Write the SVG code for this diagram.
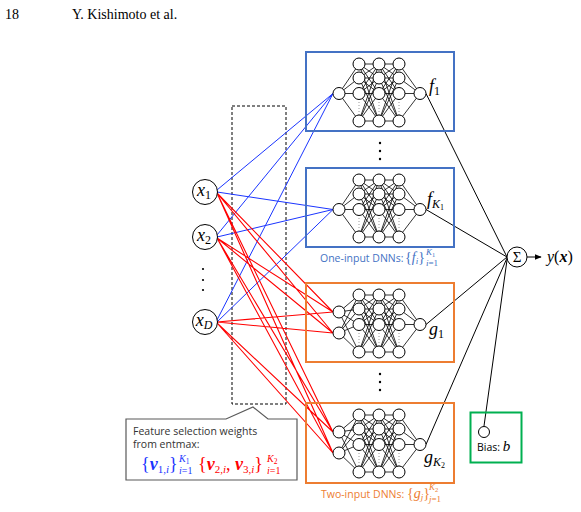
<svg xmlns="http://www.w3.org/2000/svg" xmlns:xlink="http://www.w3.org/1999/xlink" width="581" height="512" viewBox="0 0 581 512">
<style>
.serif{font-family:"Liberation Serif","DejaVu Serif",serif}
.sans{font-family:"Open Sans","Noto Sans","DejaVu Sans",sans-serif}
.it{font-style:italic}
.bi{font-style:italic;font-weight:bold}
.nl{stroke:#000;stroke-width:0.8;fill:none}
.nd{fill:#fff;stroke:#000;stroke-width:1}
.dots{stroke:#999;stroke-width:1;stroke-dasharray:1 2;fill:none}
.blue{stroke:#1a35ff;stroke-width:1;fill:none}
.red{stroke:#ff0000;stroke-width:1.1;fill:none}
.blk{stroke:#000;stroke-width:1;fill:none}
.fbox{fill:none;stroke:#4472c4;stroke-width:2}
.gbox{fill:none;stroke:#ed7d31;stroke-width:2}
</style>
<defs>
<marker id="arr" viewBox="0 0 10 10" refX="9" refY="5" markerWidth="7" markerHeight="7" orient="auto" markerUnits="userSpaceOnUse">
<path d="M0,1 L10,5 L0,9 Z" fill="#000"/>
</marker>
<g id="hidden">
<path class="nl" d="M53 12L73 12M53 12L73 26M53 12L73 41.5M53 12L73 69M53 26L73 12M53 26L73 26M53 26L73 41.5M53 26L73 69M53 41.5L73 12M53 41.5L73 26M53 41.5L73 41.5M53 41.5L73 69M53 69L73 12M53 69L73 26M53 69L73 41.5M53 69L73 69"/>
<path class="nl" d="M73 12L93 12M73 12L93 26M73 12L93 41.5M73 12L93 69M73 26L93 12M73 26L93 26M73 26L93 41.5M73 26L93 69M73 41.5L93 12M73 41.5L93 26M73 41.5L93 41.5M73 41.5L93 69M73 69L93 12M73 69L93 26M73 69L93 41.5M73 69L93 69"/>
<path class="nl" d="M93 12L114 41.5M93 26L114 41.5M93 41.5L114 41.5M93 69L114 41.5"/>
<path class="dots" d="M53 50V63M73 50V63M93 50V63"/>
<circle class="nd" cx="53" cy="12" r="6"/><circle class="nd" cx="53" cy="26" r="6"/><circle class="nd" cx="53" cy="41.5" r="6"/><circle class="nd" cx="53" cy="69" r="6"/>
<circle class="nd" cx="73" cy="12" r="6"/><circle class="nd" cx="73" cy="26" r="6"/><circle class="nd" cx="73" cy="41.5" r="6"/><circle class="nd" cx="73" cy="69" r="6"/>
<circle class="nd" cx="93" cy="12" r="6"/><circle class="nd" cx="93" cy="26" r="6"/><circle class="nd" cx="93" cy="41.5" r="6"/><circle class="nd" cx="93" cy="69" r="6"/>
<circle class="nd" cx="114" cy="41.5" r="6"/>
</g>
<g id="netF">
<path class="nl" d="M33 41.5L53 12M33 41.5L53 26M33 41.5L53 41.5M33 41.5L53 69"/>
<use xlink:href="#hidden"/>
<circle class="nd" cx="33" cy="41.5" r="6"/>
</g>
<g id="netG">
<path class="nl" d="M33 29L53 12M33 29L53 26M33 29L53 41.5M33 29L53 69M33 50L53 12M33 50L53 26M33 50L53 41.5M33 50L53 69"/>
<use xlink:href="#hidden"/>
<circle class="nd" cx="33" cy="29" r="6"/>
<circle class="nd" cx="33" cy="50" r="6"/>
</g>
</defs>
<rect width="581" height="512" fill="#fff"/>

<g id="header" class="serif" font-size="14">
<text x="5" y="19">18</text>
<text x="72" y="19">Y. Kishimoto et al.</text>
</g>

<g id="connectors">
<rect x="232" y="106" width="54" height="298" fill="none" stroke="#000" stroke-width="1" stroke-dasharray="3 2"/>
<path class="blue" d="M217 190L333 93.5M217 235L333 93.5M217 320L333 93.5M217 237L333 209.5M217 322L333 209.5"/>
<path class="blue" stroke-width="1.6" d="M217 192L333 209.5"/>
<path class="red" d="M217 193L333 312M217 193L333 333M217 193L333 432M217 193L333 453M217 238L333 312M217 238L333 333M217 238L333 432M217 238L333 453M217 322L333 312M217 322L333 333M217 323L333 432M217 323L333 453"/>
<path class="blk" d="M426 93.5L507 257M426 209.5L507 257M426 324.5L507 257M426 444.5L507 258M484 426L507 260"/>
<line x1="527" y1="257" x2="541" y2="257" stroke="#000" stroke-width="1" marker-end="url(#arr)"/>
</g>

<g id="x1"><circle class="nd" cx="205" cy="192" r="12.5"/><text class="serif" x="204" y="196" font-size="18" text-anchor="middle"><tspan class="it">x</tspan><tspan font-size="12" dy="3">1</tspan></text></g>
<g id="x2"><circle class="nd" cx="205" cy="237" r="12.5"/><text class="serif" x="204" y="241" font-size="18" text-anchor="middle"><tspan class="it">x</tspan><tspan font-size="12" dy="3">2</tspan></text></g>
<g id="xdots" fill="#000"><circle cx="203" cy="269" r="1.1"/><circle cx="203" cy="280" r="1.1"/><circle cx="203" cy="290" r="1.1"/></g>
<g id="xD"><circle class="nd" cx="205" cy="322" r="12.5"/><text class="serif" x="204" y="326" font-size="18" text-anchor="middle"><tspan class="it">x</tspan><tspan class="it" font-size="12" dy="3">D</tspan></text></g>

<g id="f1">
<rect class="fbox" x="306" y="52" width="148" height="79"/>
<use xlink:href="#netF" transform="translate(306,52)"/>
<text class="serif" x="429" y="92" font-size="18"><tspan class="it">f</tspan><tspan font-size="12" dy="3">1</tspan></text>
</g>
<g id="fdots" fill="#000"><circle cx="380" cy="143" r="1.2"/><circle cx="380" cy="151" r="1.2"/><circle cx="380" cy="159" r="1.2"/></g>
<g id="fK1">
<rect class="fbox" x="306" y="168" width="148" height="79"/>
<use xlink:href="#netF" transform="translate(306,168)"/>
<text class="serif" x="427" y="205" font-size="18"><tspan class="it">f</tspan><tspan class="it" font-size="12" dy="3">K</tspan><tspan font-size="8" dy="2">1</tspan></text>
<text class="sans" x="320" y="262" font-size="10.5" fill="#4472c4">One-input DNNs:</text>
<text class="serif" y="262" font-size="14" fill="#4472c4"><tspan x="405">{</tspan><tspan class="it">f</tspan><tspan class="it" font-size="9" dy="2">i</tspan><tspan dy="-2">}</tspan></text>
<text class="serif it" x="426" y="255" font-size="9" fill="#4472c4">K<tspan font-style="normal" font-size="6.5" dy="1.5">1</tspan></text>
<text class="serif" x="426" y="266" font-size="9" fill="#4472c4"><tspan class="it">i</tspan>=1</text>
</g>

<g id="g1">
<rect class="gbox" x="306" y="283" width="148" height="79"/>
<use xlink:href="#netG" transform="translate(306,283)"/>
<text class="serif" x="429" y="335" font-size="18"><tspan class="it">g</tspan><tspan font-size="12" dy="3">1</tspan></text>
</g>
<g id="gdots" fill="#000"><circle cx="380" cy="374" r="1.2"/><circle cx="380" cy="382" r="1.2"/><circle cx="380" cy="390" r="1.2"/></g>
<g id="gK2">
<rect class="gbox" x="306" y="403" width="148" height="80"/>
<use xlink:href="#netG" transform="translate(306,403)"/>
<text class="serif" x="424" y="463" font-size="18"><tspan class="it">g</tspan><tspan class="it" font-size="12" dy="3">K</tspan><tspan font-size="8" dy="2">2</tspan></text>
<text class="sans" x="321" y="498" font-size="10.5" fill="#ed7d31">Two-input DNNs:</text>
<text class="serif" y="498" font-size="14" fill="#ed7d31"><tspan x="407">{</tspan><tspan class="it">g</tspan><tspan class="it" font-size="9" dy="2">j</tspan><tspan dy="-2">}</tspan></text>
<text class="serif it" x="429" y="490" font-size="9" fill="#ed7d31">K<tspan font-style="normal" font-size="6.5" dy="1.5">2</tspan></text>
<text class="serif" x="429" y="502" font-size="9" fill="#ed7d31"><tspan class="it">j</tspan>=1</text>
</g>

<g id="sum">
<circle class="nd" cx="517" cy="257" r="10"/>
<text class="serif" x="517" y="262" font-size="15" text-anchor="middle">Σ</text>
<text class="serif" x="547" y="262" font-size="16"><tspan class="it">y</tspan>(<tspan class="bi">x</tspan>)</text>
</g>

<g id="bias">
<rect x="470.5" y="412.5" width="51" height="50" fill="none" stroke="#00b050" stroke-width="2"/>
<circle class="nd" cx="484" cy="432" r="5.5"/>
<text x="477" y="451" font-size="10.5"><tspan class="sans">Bias: </tspan><tspan class="serif it" font-size="15">b</tspan></text>
</g>

<g id="callout">
<path d="M126 419L226 419L253 407L268 419L297 419L297 480L126 480Z" fill="#fff" stroke="#595959" stroke-width="1.2"/>
<text class="sans" x="133" y="435" font-size="10.5" fill="#333">Feature selection weights</text>
<text class="sans" x="133" y="448" font-size="10.5" fill="#333">from entmax:</text>
<text class="serif" y="470" font-size="18" fill="#1a35ff"><tspan x="141">{</tspan><tspan class="bi">v</tspan><tspan font-size="11" dy="3">1,</tspan><tspan class="it" font-size="11">i</tspan><tspan dy="-3">}</tspan></text>
<text class="serif it" x="179" y="462" font-size="10" fill="#1a35ff">K<tspan font-style="normal" font-size="7.5" dy="1.5">1</tspan></text>
<text class="serif" x="179" y="474" font-size="10" fill="#1a35ff"><tspan class="it">i</tspan>=1</text>
<text class="serif" y="470" font-size="18" fill="#ff0000"><tspan x="198">{</tspan><tspan class="bi">v</tspan><tspan font-size="11" dy="3">2,</tspan><tspan class="it" font-size="11">i</tspan><tspan dy="-3">, </tspan><tspan class="bi">v</tspan><tspan font-size="11" dy="3">3,</tspan><tspan class="it" font-size="11">i</tspan><tspan dy="-3">}</tspan></text>
<text class="serif it" x="267" y="462" font-size="10" fill="#ff0000">K<tspan font-style="normal" font-size="7.5" dy="1.5">2</tspan></text>
<text class="serif" x="267" y="474" font-size="10" fill="#ff0000"><tspan class="it">i</tspan>=1</text>
</g>
</svg>
